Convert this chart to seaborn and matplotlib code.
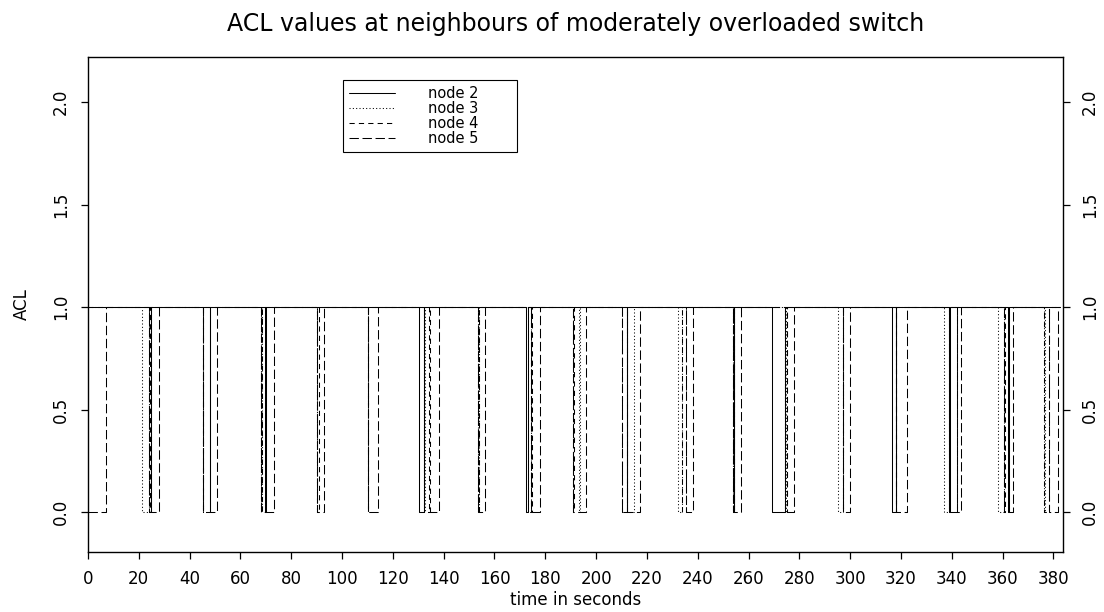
import numpy as np
import pandas as pd
import matplotlib
matplotlib.use("Agg")
import matplotlib.pyplot as plt
import seaborn as sns

# ACL drop intervals (seconds): each node falls to 0 at a "down" time and returns to 1 at the matching "up" time
node2_down = [24.7, 47.9, 69.7, 130.3, 172.3, 212.1, 254.1, 269.4, 316.4, 339.1, 362.3]
node2_up = [24.9, 48.1, 70.0, 132.3, 173.1, 212.3, 254.3, 274.4, 318.0, 339.3, 362.5]

node3_down = [21.1, 45.1, 68.1, 90.0, 110.1, 132.3, 153.7, 173.1, 193.3, 212.1, 232.4, 254.0,
              274.4, 295.2, 318.0, 337.1, 358.1, 376.4]
node3_up = [24.1, 45.3, 68.3, 90.2, 110.3, 132.5, 153.9, 174.4, 193.5, 215.0, 234.0, 254.2,
            274.6, 297.1, 318.2, 339.1, 360.7, 376.6]

node4_down = [24.1, 45.1, 68.1, 90.0, 110.1, 134.3, 153.7, 174.4, 191.1, 210.1, 234.0, 254.0,
              275.1, 297.1, 318.0, 342.0, 360.7, 376.4]
node4_up = [24.3, 45.4, 68.4, 91.0, 110.4, 134.5, 153.9, 174.6, 191.3, 212.1, 235.4, 254.3,
            275.3, 297.3, 318.2, 342.2, 360.9, 378.3]

node5_down = [0.0, 24.1, 45.1, 68.1, 90.0, 110.1, 132.3, 153.7, 174.4, 191.1, 210.1, 235.4,
              254.0, 274.4, 297.1, 318.0, 339.1, 360.7, 378.3]
node5_up = [6.9, 28.0, 50.9, 73.3, 93.0, 114.1, 138.2, 156.3, 178.0, 196.1, 217.3, 238.3,
            257.1, 278.1, 300.0, 322.3, 343.6, 364.3, 382.0]

end_time = 382.5
node_names = ["node 2", "node 3", "node 4", "node 5"]
x_ticks = list(range(0, 381, 20))
y_ticks = [0.0, 0.5, 1.0, 1.5, 2.0]


def trace(name, down, up):
    t, v = [], []
    if down[0] > 0:
        t.append(0.0)
        v.append(1.0)
    for d, u in zip(down, up):
        t += [d, u]
        v += [0.0, 1.0]
    t.append(end_time)
    v.append(1.0)
    return pd.DataFrame({"time": t, "ACL": v, "node": name})


df = pd.concat([
    trace("node 2", node2_down, node2_up),
    trace("node 3", node3_down, node3_up),
    trace("node 4", node4_down, node4_up),
    trace("node 5", node5_down, node5_up),
], ignore_index=True)

sns.set_style("white")
plt.rcParams["font.family"] = ["DejaVu Sans"]
plt.rcParams["text.color"] = "black"
plt.rcParams["axes.labelcolor"] = "black"
plt.rcParams["xtick.color"] = "black"
plt.rcParams["ytick.color"] = "black"

fig = plt.figure(figsize=(11.04, 6.12), dpi=100)
ax = fig.add_axes([88 / 1104, 1 - 552 / 612, (1063 - 88) / 1104, (552 - 57) / 612])

dash_map = {"node 2": "", "node 3": (1, 2.2), "node 4": (5, 4), "node 5": (9, 3.5)}
sns.lineplot(data=df, x="time", y="ACL", hue="node", style="node",
             hue_order=node_names, style_order=node_names,
             palette=["black"] * 4, dashes=dash_map, drawstyle="steps-post",
             estimator=None, linewidth=0.75, legend=False, ax=ax)

ax.set_xlim(0, 383.8)
ax.set_ylim(-0.195, 2.22)
ax.set_xticks(x_ticks)
ax.set_xticklabels([str(v) for v in x_ticks])
ax.set_yticks(y_ticks)
ax.set_yticklabels([f"{v:.1f}" for v in y_ticks])

for s in ax.spines.values():
    s.set_visible(True)
    s.set_color("black")
    s.set_linewidth(1.0)

ax.tick_params(axis="x", direction="out", length=5, width=0.9, colors="black",
               labelsize=12, pad=8, top=False, bottom=True)
ax.tick_params(axis="y", direction="out", length=5, width=0.9, colors="black",
               labelsize=12, pad=8, left=True, right=True, labelleft=True,
               labelright=True, labelrotation=90)
for lbl in ax.get_yticklabels():
    lbl.set_va("center")

ax.set_xlabel("time in seconds", fontsize=12, color="black")
ax.set_ylabel("ACL", fontsize=12, color="black")
ax.xaxis.set_label_coords(0.5, -0.097)
ax.xaxis.label.set_va("center")
ax.yaxis.set_label_coords(-0.0677, 0.5)
ax.yaxis.label.set_va("center")

fig.text(0.5216, 1 - 24 / 612, "ACL values at neighbours of moderately overloaded switch",
         ha="center", va="center", fontsize=17, color="black")

handles = ax.get_lines()[:4]
leg_x0 = (343 - 88) / 975
leg_w = (517 - 343) / 975
leg_top = (552 - 80) / 495
leg = ax.legend(handles, node_names, loc="upper left", mode="expand",
                bbox_to_anchor=(leg_x0, leg_top - 0.3, leg_w, 0.3),
                borderaxespad=0, fontsize=10.5, handlelength=3.15, handletextpad=2.3,
                borderpad=0.4, labelspacing=0.0, frameon=True, fancybox=False,
                framealpha=1, edgecolor="black")
leg.get_frame().set_linewidth(0.8)
for txt in leg.get_texts():
    txt.set_color("black")

fig.savefig("out.png", dpi=100)
